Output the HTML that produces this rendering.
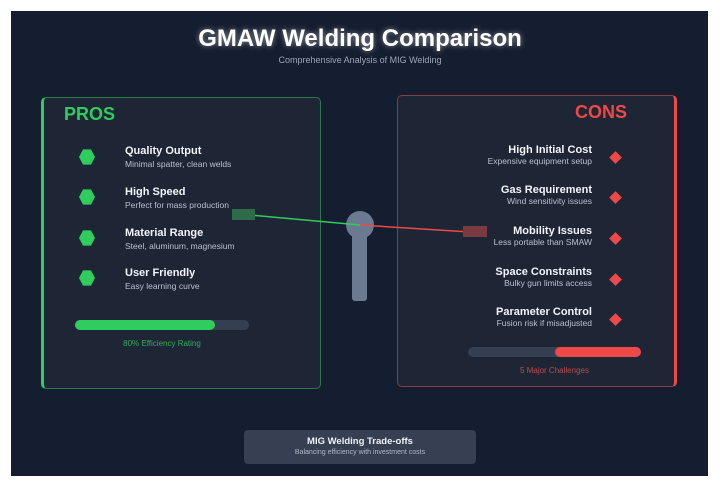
<!DOCTYPE html>
<html><head><style>
body{margin:0;width:720px;height:488px;background:#fff;font-family:"Liberation Sans",sans-serif;position:relative;overflow:hidden}
.bg{position:absolute;left:11px;top:11px;width:697px;height:465px;background:#151d30}
.a{position:absolute}
.t{color:#f2f4f8;font-weight:bold;font-size:11px;white-space:nowrap}
.s{color:#b8c0cc;font-size:8.5px;white-space:nowrap}
.hex{position:absolute;width:16px;height:16px;background:#2fcc5e;clip-path:polygon(25% 2%,75% 2%,100% 50%,75% 98%,25% 98%,0 50%)}
.dia{position:absolute;width:9px;height:9px;background:#ee4848;transform:rotate(45deg)}
</style></head><body>
<div class="bg"></div>
<div class="a" style="left:0;top:25px;width:720px;text-align:center;color:#fff;font-weight:bold;font-size:24px;text-shadow:0 0 6px rgba(255,255,255,.5)">GMAW Welding Comparison</div>
<div class="a" style="left:0;top:55px;width:720px;text-align:center;color:#9aa6bb;font-size:9px">Comprehensive Analysis of MIG Welding</div>

<div class="a" style="left:41px;top:97px;width:276px;height:290px;background:#1e2636;border:1px solid #2b7a4a;border-left:3px solid #2fcc5e;border-radius:5px"></div>
<div class="a" style="left:64px;top:104px;color:#2fcc5e;font-weight:bold;font-size:18px">PROS</div>
<div class="hex" style="left:79px;top:149px"></div>
<div class="hex" style="left:79px;top:189px"></div>
<div class="hex" style="left:79px;top:230px"></div>
<div class="hex" style="left:79px;top:270px"></div>
<div class="a t" style="left:125px;top:145px">Quality Output</div><div class="a s" style="left:125px;top:159px">Minimal spatter, clean welds</div>
<div class="a t" style="left:125px;top:186px">High Speed</div><div class="a s" style="left:125px;top:200px">Perfect for mass production</div>
<div class="a t" style="left:125px;top:227px">Material Range</div><div class="a s" style="left:125px;top:241px">Steel, aluminum, magnesium</div>
<div class="a t" style="left:125px;top:267px">User Friendly</div><div class="a s" style="left:125px;top:281px">Easy learning curve</div>
<div class="a" style="left:75px;top:320px;width:174px;height:10px;background:#344052;border-radius:5px"></div>
<div class="a" style="left:75px;top:320px;width:140px;height:10px;background:#2fcc5e;border-radius:5px"></div>
<div class="a" style="left:75px;top:339px;width:174px;text-align:center;color:#2fae58;font-size:8px">80% Efficiency Rating</div>

<div class="a" style="left:397px;top:95px;width:276px;height:290px;background:#1e2636;border:1px solid #8a3a40;border-right:3px solid #ee4848;border-radius:5px"></div>
<div class="a" style="left:575px;top:102px;color:#ee4848;font-weight:bold;font-size:18px">CONS</div>
<div class="a" style="left:380px;top:144px;width:212px;text-align:right"><div class="t">High Initial Cost</div><div class="s">Expensive equipment setup</div></div>
<div class="a" style="left:380px;top:184px;width:212px;text-align:right"><div class="t">Gas Requirement</div><div class="s">Wind sensitivity issues</div></div>
<div class="a" style="left:380px;top:225px;width:212px;text-align:right"><div class="t">Mobility Issues</div><div class="s">Less portable than SMAW</div></div>
<div class="a" style="left:380px;top:266px;width:212px;text-align:right"><div class="t">Space Constraints</div><div class="s">Bulky gun limits access</div></div>
<div class="a" style="left:380px;top:306px;width:212px;text-align:right"><div class="t">Parameter Control</div><div class="s">Fusion risk if misadjusted</div></div>
<div class="dia" style="left:611px;top:153px"></div>
<div class="dia" style="left:611px;top:193px"></div>
<div class="dia" style="left:611px;top:234px"></div>
<div class="dia" style="left:611px;top:275px"></div>
<div class="dia" style="left:611px;top:315px"></div>
<div class="a" style="left:468px;top:347px;width:173px;height:10px;background:#344052;border-radius:5px"></div>
<div class="a" style="left:555px;top:347px;width:86px;height:10px;background:#ee4848;border-radius:5px"></div>
<div class="a" style="left:468px;top:366px;width:173px;text-align:center;color:#c0484c;font-size:8px">5 Major Challenges</div>

<svg class="a" style="left:0;top:0" width="720" height="488">
<circle cx="360" cy="225" r="14" fill="#6b7a90"/>
<rect x="352" y="228" width="15" height="73" rx="3" fill="#6b7a90"/>
<line x1="250" y1="215" x2="360" y2="225" stroke="#2fcc5e" stroke-width="1.5"/>
<line x1="360" y1="225" x2="470" y2="232" stroke="#ee4848" stroke-width="1.5"/>
<rect x="232" y="209" width="23" height="11" fill="#2e6b48"/>
<rect x="463" y="226" width="24" height="11" fill="#7a3a42"/>
</svg>

<div class="a" style="left:244px;top:430px;width:232px;height:34px;background:#364052;border-radius:4px;text-align:center">
<div style="color:#eef1f5;font-weight:bold;font-size:9.5px;margin-top:6px">MIG Welding Trade-offs</div>
<div style="color:#b0b8c6;font-size:7px;margin-top:2px">Balancing efficiency with investment costs</div>
</div>
</body></html>
